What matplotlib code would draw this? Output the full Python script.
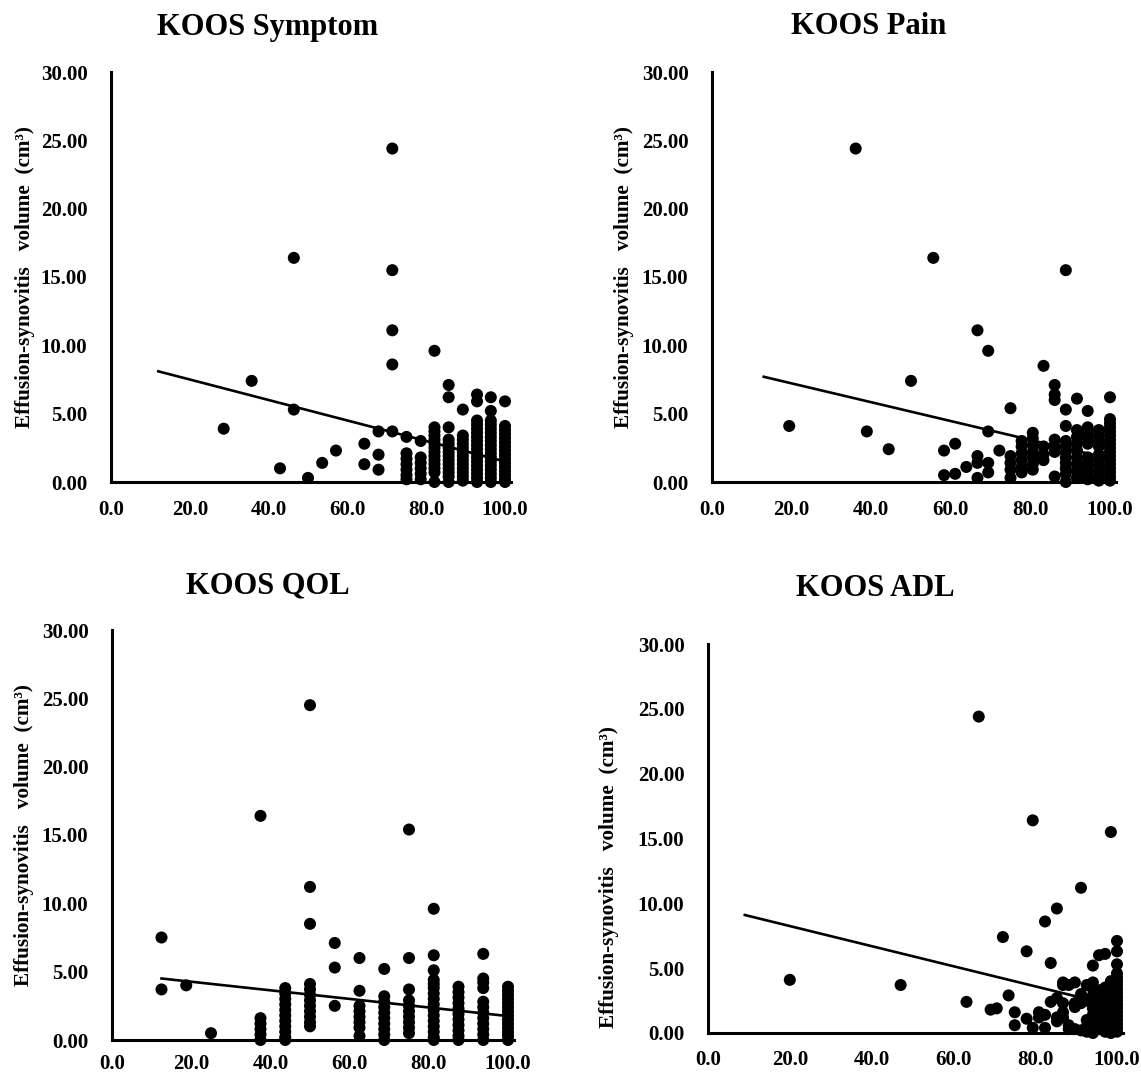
import matplotlib
matplotlib.use('Agg')
import matplotlib.pyplot as plt
from matplotlib.ticker import FormatStrFormatter

plt.rcParams['font.family'] = ['Liberation Serif', 'DejaVu Serif']
plt.rcParams['font.weight'] = 'bold'

titles = ['KOOS Symptom', 'KOOS Pain', 'KOOS QOL', 'KOOS ADL']
y_label = 'Effusion-synovitis   volume  (cm³)'
x_ticks = [0, 20, 40, 60, 80, 100]
y_ticks = [0, 5, 10, 15, 20, 25, 30]

# KOOS Symptom: one x per column, the y values stacked at it
symptom_x = [28.6, 35.7, 42.9, 46.4, 50.0, 53.6, 57.1, 64.3, 67.9, 71.4,
             75.0, 78.6, 82.1, 85.7, 89.3, 92.9, 96.4, 100.0]
symptom_y = [
    [3.9],
    [7.4],
    [1.0],
    [16.4, 5.3],
    [0.3],
    [1.4],
    [2.3],
    [2.8, 1.3],
    [3.7, 2.0, 0.9],
    [24.4, 15.5, 11.1, 8.6, 3.7],
    [3.3, 2.1, 1.7, 1.3, 0.9, 0.5, 0.2],
    [3.0, 1.8, 1.4, 1.0, 0.6, 0.2],
    [9.6, 4.0, 3.7, 3.4, 3.1, 2.8, 2.5, 2.2, 1.9, 1.6, 1.3, 1.0, 0.7, 0.0],
    [7.1, 6.2, 4.0, 3.1, 2.8, 2.5, 2.2, 1.9, 1.6, 1.3, 1.0, 0.7, 0.4, 0.0],
    [5.3, 3.4, 3.1, 2.8, 2.5, 2.2, 1.9, 1.6, 1.3, 1.0, 0.7, 0.4, 0.1],
    [6.4, 5.9, 4.5, 4.2, 3.9, 3.6, 3.3, 3.0, 2.7, 2.4, 2.1, 1.8, 1.5, 1.2,
     0.9, 0.6, 0.3, 0.0],
    [6.2, 5.2, 4.5, 4.2, 3.9, 3.6, 3.3, 3.0, 2.7, 2.4, 2.1, 1.8, 1.5, 1.2,
     0.9, 0.6, 0.3, 0.0],
    [5.9, 4.1, 3.8, 3.5, 3.2, 2.9, 2.6, 2.3, 2.0, 1.7, 1.4, 1.1, 0.8, 0.5,
     0.2, 0.0],
]
symptom_trend_x = [12.0, 100.0]
symptom_trend_y = [8.1, 1.5]

# KOOS Pain
pain_x = [19.4, 36.1, 38.9, 44.4, 50.0, 55.6, 58.3, 61.1, 63.9, 66.7, 69.4,
          72.2, 75.0, 77.8, 80.6, 83.3, 86.1, 88.9, 91.7, 94.4, 97.2, 100.0]
pain_y = [
    [4.1],
    [24.4],
    [3.7],
    [2.4],
    [7.4],
    [16.4],
    [2.3, 0.5],
    [2.8, 0.6],
    [1.1],
    [11.1, 1.9, 1.4, 0.3],
    [9.6, 3.7, 1.4, 0.7],
    [2.3],
    [5.4, 1.9, 1.4, 0.9, 0.3],
    [3.0, 2.6, 2.1, 1.6, 1.1, 0.7],
    [3.6, 3.2, 2.7, 2.2, 1.8, 1.3, 0.9],
    [8.5, 2.6, 2.0, 1.6],
    [7.1, 6.4, 6.0, 3.1, 2.6, 2.2, 0.4],
    [15.5, 5.3, 4.1, 3.0, 2.6, 2.2, 1.8, 1.4, 1.0, 0.6, 0.0],
    [6.1, 3.8, 3.3, 2.8, 2.3, 1.8, 1.3, 0.8, 0.3],
    [5.2, 4.0, 3.6, 3.2, 2.8, 1.8, 1.4, 1.0, 0.6, 0.2],
    [3.8, 3.4, 3.0, 2.6, 2.0, 1.6, 1.2, 0.8, 0.4, 0.1],
    [6.2, 4.6, 4.3, 4.0, 3.7, 3.4, 3.1, 2.8, 2.5, 2.2, 1.9, 1.6, 1.3, 1.0,
     0.7, 0.4, 0.1],
]
pain_trend_x = [13.0, 100.0]
pain_trend_y = [7.7, 1.7]

# KOOS QOL
qol_x = [12.5, 18.75, 25.0, 37.5, 43.75, 50.0, 56.25, 62.5, 68.75, 75.0,
         81.25, 87.5, 93.75, 100.0]
qol_y = [
    [7.5, 3.7],
    [4.0],
    [0.5],
    [16.4, 1.6, 1.2, 0.8, 0.4, 0.0],
    [3.8, 3.4, 3.0, 2.6, 2.2, 1.8, 1.4, 1.0, 0.6, 0.2, 0.0],
    [24.5, 11.2, 8.5, 4.1, 3.7, 3.3, 2.9, 2.5, 2.1, 1.7, 1.3, 1.0],
    [7.1, 5.3, 2.5],
    [6.0, 3.6, 2.5, 2.1, 1.7, 1.3, 0.9, 0.3],
    [5.2, 3.2, 2.8, 2.4, 2.0, 1.6, 1.2, 0.8, 0.4, 0.0],
    [15.4, 6.0, 3.7, 2.9, 2.5, 2.1, 1.7, 1.3, 0.9, 0.5],
    [9.6, 6.2, 5.1, 4.4, 4.1, 3.8, 3.4, 3.0, 2.6, 2.2, 1.8, 1.4, 1.0, 0.6,
     0.2, 0.0],
    [3.9, 3.5, 3.1, 2.7, 2.3, 1.9, 1.5, 1.1, 0.7, 0.3, 0.0],
    [6.3, 4.5, 4.2, 3.8, 2.8, 2.4, 2.0, 1.6, 1.2, 0.8, 0.4, 0.0],
    [3.9, 3.6, 3.3, 3.0, 2.7, 2.4, 2.1, 1.8, 1.5, 1.2, 0.9, 0.6, 0.3, 0.0],
]
qol_trend_x = [12.5, 100.0]
qol_trend_y = [4.5, 1.75]

# KOOS ADL
adl_x = [20.0, 47.1, 63.2, 66.2, 69.1, 70.6, 72.1, 73.5, 75.0, 77.9, 79.4,
         80.9, 82.4, 83.8, 85.3, 86.8, 88.2, 89.7, 91.2, 92.6, 94.1, 95.6,
         97.1, 98.5, 100.0]
adl_y = [
    [4.1],
    [3.7],
    [2.4],
    [24.4],
    [1.8],
    [1.9],
    [7.4],
    [2.9],
    [1.6, 0.6],
    [6.3, 1.1],
    [16.4, 0.4],
    [1.6, 1.2],
    [8.6, 1.4, 0.4],
    [5.4, 2.4],
    [9.6, 2.7, 1.2, 0.9],
    [3.9, 3.7, 2.3, 1.6, 1.2],
    [3.7, 0.6, 0.3],
    [3.9, 2.3, 2.0, 0.3],
    [11.2, 3.0, 2.3, 0.2],
    [3.7, 2.5, 1.0, 0.5, 0.1],
    [5.2, 3.9, 3.4, 2.9, 2.4, 1.9, 1.4, 0.9, 0.4, 0.0],
    [6.0, 3.3, 2.8, 2.3, 1.8, 1.3, 0.8, 0.3],
    [6.1, 3.5, 3.0, 2.5, 2.0, 1.5, 1.0, 0.5, 0.1],
    [15.5, 4.0, 3.5, 3.0, 2.5, 2.0, 1.5, 1.0, 0.0],
    [7.1, 6.3, 5.3, 4.6, 4.3, 4.0, 3.7, 3.4, 3.1, 2.8, 2.5, 2.2, 1.9, 1.6,
     1.3, 1.0, 0.7, 0.4, 0.1],
]
adl_trend_x = [9.0, 100.0]
adl_trend_y = [9.1, 2.05]

# axis placement in pixels: x=0, x=100, y=0, y=30
W, H = 1141, 1074
frames = [(111, 505, 482, 72), (712, 1110, 482, 72),
          (112, 508, 1040, 630), (708, 1117, 1033, 644)]
title_pos = [(268, 27), (869, 27), (268, 586), (875, 588)]
ylabel_x = [35, 634, 34, 619]
ylabel_frac = [0.5, 0.5, 0.5, 0.40]
xtick_pad = [13, 13, 10, 12]
XMAX = 101.5

panels = [(symptom_x, symptom_y, symptom_trend_x, symptom_trend_y),
          (pain_x, pain_y, pain_trend_x, pain_trend_y),
          (qol_x, qol_y, qol_trend_x, qol_trend_y),
          (adl_x, adl_y, adl_trend_x, adl_trend_y)]

fig = plt.figure(figsize=(W / 100, H / 100), dpi=100)

for i, (cx, cy, tx, ty) in enumerate(panels):
    x0, x100, y0, y30 = frames[i]
    ppu = (x100 - x0) / 100
    ax = fig.add_axes([x0 / W, 1 - y0 / H, XMAX * ppu / W, (y0 - y30) / H])

    xs = [x for x, ys in zip(cx, cy) for _ in ys]
    ys = [y for col in cy for y in col]
    ax.scatter(xs, ys, s=75, color='black', edgecolors='none',
               clip_on=False, zorder=3)
    ax.plot(tx, ty, color='black', linewidth=1.9, zorder=4)

    ax.set_xlim(0, XMAX)
    ax.set_ylim(0, 30)
    ax.set_xticks(x_ticks)
    ax.set_yticks(y_ticks)
    ax.xaxis.set_major_formatter(FormatStrFormatter('%.1f'))
    ax.yaxis.set_major_formatter(FormatStrFormatter('%.2f'))
    ax.tick_params(axis='x', length=0, pad=xtick_pad[i], labelsize=15)
    ax.tick_params(axis='y', length=0, pad=17, labelsize=15)
    for side in ['top', 'right']:
        ax.spines[side].set_visible(False)
    for side in ['left', 'bottom']:
        ax.spines[side].set_linewidth(2.2)
        ax.spines[side].set_zorder(2)

    ax.set_ylabel(y_label, fontsize=15.3, fontweight='bold')
    lx = (ylabel_x[i] - x0) / (XMAX * ppu)
    ax.yaxis.set_label_coords(lx, ylabel_frac[i])

    fig.text(title_pos[i][0] / W, 1 - title_pos[i][1] / H, titles[i],
             fontsize=22, fontweight='bold', ha='center', va='center')

fig.savefig('out.png', dpi=100)
